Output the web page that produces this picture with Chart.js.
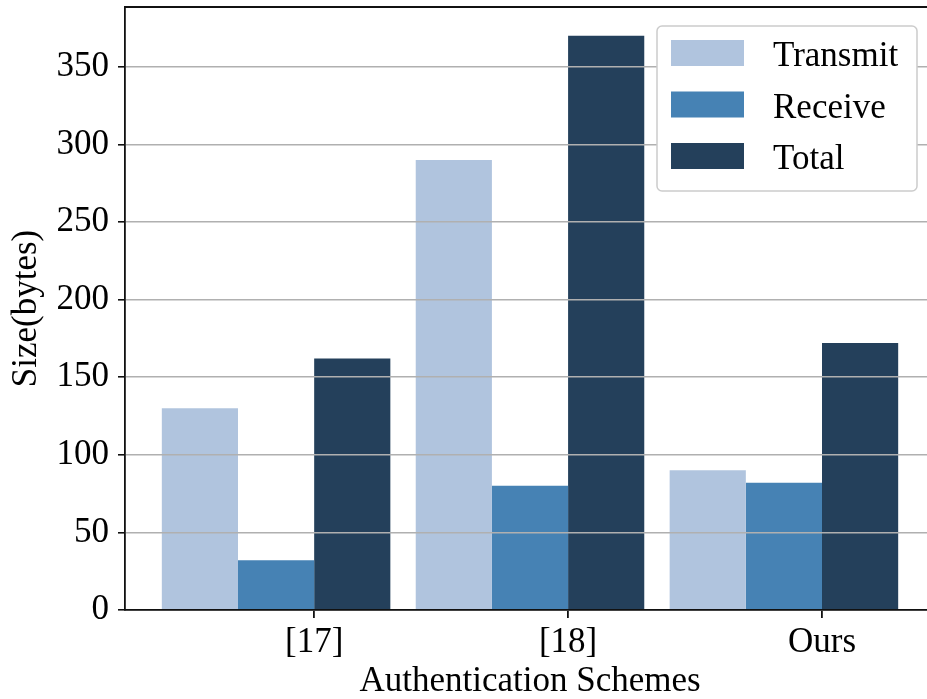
<!DOCTYPE html>
<html>
<head>
<meta charset="utf-8">
<script src="https://cdn.jsdelivr.net/npm/chart.js@4"></script>
<style>
  html, body { margin: 0; padding: 0; overflow: hidden; background: #fff; }
  canvas { display: block; }
</style>
</head>
<body>
<canvas id="chart" width="935" height="699"></canvas>
<script>
// communication cost per scheme, in bytes
const schemes = ['[17]', '[18]', 'Ours'];
const transmit = [130, 290, 90];
const receive = [32, 80, 82];
const total = [162, 370, 172];
const yTicks = [0, 50, 100, 150, 200, 250, 300, 350];

const FONT = "'Liberation Serif', 'Times New Roman', serif";

// bars sit on a linear axis so the scheme labels can be shifted off the group centre
const toPoints = arr => arr.map((v, i) => ({ x: i, y: v }));

// frame on all four sides plus a boxed legend in the upper right
const framePlugin = {
    id: 'frame',
    afterDraw(chart) {
        const { ctx, chartArea: a } = chart;
        ctx.save();
        ctx.strokeStyle = '#111';
        ctx.lineWidth = 1.8;
        ctx.beginPath();
        ctx.moveTo(a.left, a.top);
        ctx.lineTo(a.right, a.top);
        ctx.lineTo(a.right, a.bottom);
        ctx.stroke();

        const bx = a.right - 278, by = a.top + 19, bw = 260, bh = 165;
        ctx.beginPath();
        if (ctx.roundRect) ctx.roundRect(bx, by, bw, bh, 5);
        else ctx.rect(bx, by, bw, bh);
        ctx.fillStyle = '#fff';
        ctx.fill();
        ctx.strokeStyle = '#cccccc';
        ctx.lineWidth = 1.5;
        ctx.stroke();

        ctx.font = '35px ' + FONT;
        ctx.textBaseline = 'alphabetic';
        ctx.textAlign = 'left';
        chart.data.datasets.forEach((ds, i) => {
            const ry = by + 14 + i * 51.5;
            ctx.fillStyle = ds.backgroundColor;
            ctx.fillRect(bx + 14, ry, 73, 26);
            ctx.fillStyle = '#000';
            ctx.fillText(ds.label, bx + 116, ry + 26);
        });
        ctx.restore();
    }
};

new Chart(document.getElementById('chart'), {
    type: 'bar',
    data: {
        datasets: [
            { label: 'Transmit', data: toPoints(transmit), backgroundColor: '#b0c4de' },
            { label: 'Receive', data: toPoints(receive), backgroundColor: '#4682b4' },
            { label: 'Total', data: toPoints(total), backgroundColor: '#24405b' }
        ]
    },
    options: {
        responsive: false,
        animation: false,
        layout: { padding: { top: 7, left: 0, right: 0, bottom: 0 } },
        datasets: { bar: { categoryPercentage: 0.9, barPercentage: 1.0, borderWidth: 0 } },
        plugins: { legend: { display: false }, tooltip: { enabled: false } },
        scales: {
            x: {
                type: 'linear',
                offset: false,
                min: -0.595,
                max: 2.595,
                afterBuildTicks: s => { s.ticks = schemes.map((c, i) => ({ value: i + 0.15 })); },
                afterFit: s => { s.height = 89; s.paddingLeft = 0; s.paddingRight = 0; },
                ticks: {
                    callback: (v, i) => schemes[i],
                    font: { family: FONT, size: 35 },
                    color: '#000',
                    padding: 4,
                    maxRotation: 0
                },
                grid: { offset: false, drawOnChartArea: false, tickLength: 8, tickColor: '#111', lineWidth: 1.8 },
                border: { color: '#111', width: 1.8, z: 2 },
                title: {
                    display: true,
                    text: 'Authentication Schemes',
                    font: { family: FONT, size: 35, lineHeight: 1 },
                    color: '#000',
                    padding: 0
                }
            },
            y: {
                min: 0,
                max: 388.5,
                afterBuildTicks: s => { s.ticks = yTicks.map(v => ({ value: v })); },
                afterFit: s => { s.width = 125; s.paddingTop = 0; s.paddingBottom = 0; },
                ticks: {
                    font: { family: FONT, size: 35 },
                    color: '#000',
                    padding: 9
                },
                grid: { color: '#b0b0b0', lineWidth: 1.6, tickLength: 7, tickColor: '#111', z: 1 },
                border: { color: '#111', width: 1.8, z: 2 },
                title: {
                    display: true,
                    text: 'Size(bytes)',
                    font: { family: FONT, size: 35, lineHeight: 1.2 },
                    color: '#000',
                    padding: { top: 6, bottom: 0 }
                }
            }
        }
    },
    plugins: [framePlugin]
});
</script>
</body>
</html>
